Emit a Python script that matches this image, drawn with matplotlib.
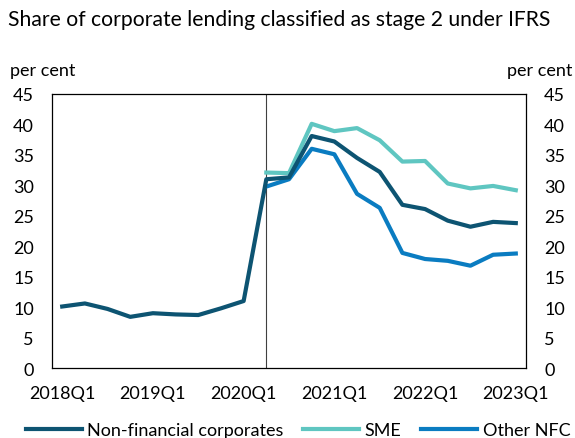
import numpy as np
import matplotlib
matplotlib.use('Agg')
import matplotlib.pyplot as plt

plt.rcParams['font.family'] = ['Lato', 'DejaVu Sans']

# quarterly observations 2018Q1 .. 2023Q1
quarters = [f'{y}Q{q}' for y in range(2018, 2024) for q in range(1, 5)][:21]
nfc = [10.1, 10.6, 9.7, 8.4, 9.0, 8.8, 8.7, 9.8, 11.0, 31.0, 31.3, 38.1, 37.2,
       34.5, 32.2, 26.8, 26.1, 24.2, 23.2, 24.0, 23.8]
sme = [None] * 9 + [32.1, 32.0, 40.1, 38.9, 39.4, 37.4, 33.9, 34.0, 30.3,
                    29.5, 29.9, 29.2]
other_nfc = [None] * 9 + [29.8, 31.0, 36.0, 35.1, 28.6, 26.3, 18.9, 17.9,
                          17.6, 16.8, 18.6, 18.8]

def arr(v):
    return np.array([np.nan if x is None else x for x in v], dtype=float)

x = np.arange(len(quarters))
fs = 13

fig = plt.figure(figsize=(5.75, 4.39), dpi=100)
ax = fig.add_axes([52/575, 1 - 369/439, (526-52)/575, (369-95)/439])

ax.plot(x, arr(nfc), color='#0d5472', lw=3, label='Non-financial corporates', zorder=3)
ax.plot(x, arr(sme), color='#5fc6c1', lw=3, label='SME', zorder=2)
ax.plot(x, arr(other_nfc), color='#0a7cc1', lw=3, label='Other NFC', zorder=2)

ax.axvline(9, color='#404040', lw=0.8, zorder=1)

ax.set_xlim(-0.45, 20.45)
ax.set_ylim(0, 45)
ax.set_yticks(range(0, 50, 5))
ax.set_xticks(x[::4])
ax.set_xticklabels(quarters[::4])
ax.tick_params(length=0, labelsize=fs, colors='black')
ax.tick_params(axis='x', pad=12)
ax.tick_params(axis='y', labelright=True, right=False, pad=13)
for s in ax.spines.values():
    s.set_linewidth(0.9)

fig.text(8/575, 1 - 20/439, 'Share of corporate lending classified as stage 2 under IFRS',
         fontsize=15.2, va='center', ha='left')
fig.text(10/575, 1 - 71/439, 'per cent', fontsize=fs, va='center', ha='left')
fig.text(572/575, 1 - 71/439, 'per cent', fontsize=fs, va='center', ha='right')

fig.legend(loc='center', bbox_to_anchor=(298/575, 1 - 431/439), ncol=3, frameon=False,
           fontsize=fs, handlelength=3.1, handletextpad=0.3, columnspacing=1.1,
           borderaxespad=0)

fig.savefig('out.png', dpi=100)
